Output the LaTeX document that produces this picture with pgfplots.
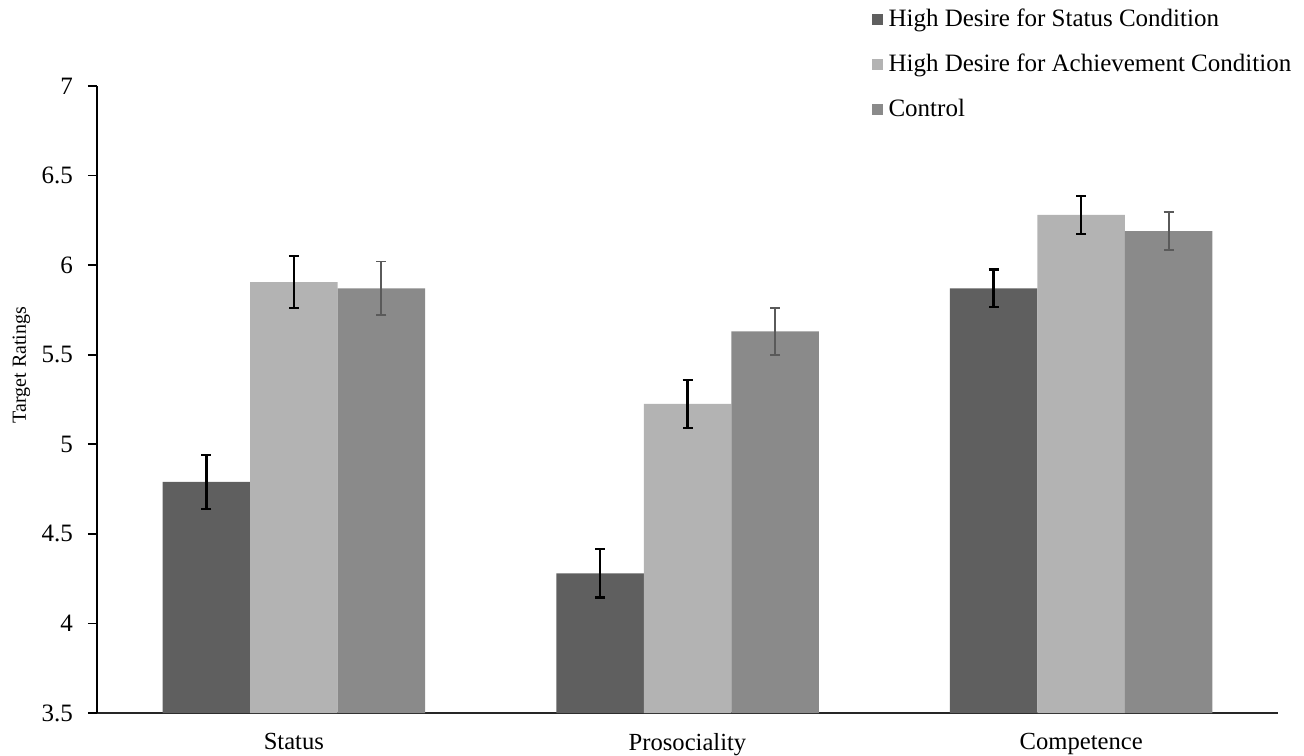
\documentclass[border=0pt]{standalone}
\usepackage{pgfplots}
\pgfplotsset{compat=1.18}
\usepackage{fontspec}
\setmainfont{Liberation Serif}
\definecolor{cdark}{HTML}{5F5F5F}
\definecolor{clight}{HTML}{B3B3B3}
\definecolor{cmed}{HTML}{8A8A8A}
\definecolor{cerr}{HTML}{5A5A5A}
\begin{document}
\begin{tikzpicture}
\begin{axis}[
  scale only axis,
  width=590.5pt, height=313.5pt,
  xmin=-0.5, xmax=2.5,
  ymin=3.5, ymax=7,
  ytick={3.5,4,4.5,5,5.5,6,6.5,7},
  xtick={0,1,2},
  xticklabels={Status,Prosociality,Competence},
  axis x line=bottom, axis y line=left,
  x axis line style={-, line width=1.4pt, color=black!85},
  y axis line style={-, line width=1pt},
  tick style={black, line width=0.8pt},
  xtick style={draw=none},
  major tick length=4.5pt,
  tick align=outside,
  y tick label style={font=\fontsize{12.5}{14}\selectfont, xshift=-4pt},
  x tick label style={font=\fontsize{12.3}{14}\selectfont, yshift=-2pt},
  /pgf/number format/assume math mode=true,
  ylabel={Target Ratings},
  ylabel style={font=\fontsize{9.6}{11}\selectfont},
  every axis y label/.style={at={(axis description cs:-0.064,0.555)}, rotate=90, anchor=center},
  ybar=0pt,
  bar width=43.75pt,
  legend style={
    at={(0.6555,1.13)}, anchor=north west,
    draw=none, fill=none,
    font=\fontsize{12.5}{14}\selectfont,
    row sep=8.2pt,
    cells={anchor=west},
    inner sep=0pt,
    /tikz/every even column/.append style={column sep=0pt},
  },
  legend image code/.code={\fill[#1, draw=none] (0pt,-2.75pt) rectangle (5.5pt,2.75pt);},
  legend style={nodes={inner xsep=3pt}},
  error bars/error bar style={line width=1.2pt, black},
  error bars/error mark options={rotate=90, mark size=2.5pt, line width=1.2pt},
]
\addplot[fill=cdark, draw=none, error bars/.cd, y dir=both, y explicit]
  coordinates {(0,4.79) +- (0,0.15) (1,4.28) +- (0,0.135) (2,5.87) +- (0,0.105)};
\addlegendentry{High Desire for Status Condition}
\addplot[fill=clight, draw=none, error bars/.cd, y dir=both, y explicit]
  coordinates {(0,5.905) +- (0,0.145) (1,5.225) +- (0,0.135) (2,6.28) +- (0,0.105)};
\addlegendentry{High Desire for Achievement Condition}
\addplot[fill=cmed, draw=none, error bars/.cd, y dir=both, y explicit,
  error bar style={line width=0.9pt, cerr},
  error mark options={rotate=90, mark size=2.5pt, line width=0.9pt, cerr}]
  coordinates {(0,5.87) +- (0,0.15) (1,5.63) +- (0,0.13) (2,6.19) +- (0,0.105)};
\addlegendentry{Control}
\end{axis}
\pgfresetboundingbox
\path[use as bounding box] (current axis.south west) ++(-48.5pt,-21pt) rectangle ([xshift=13pt,yshift=43pt]current axis.north east);
\end{tikzpicture}
\end{document}
